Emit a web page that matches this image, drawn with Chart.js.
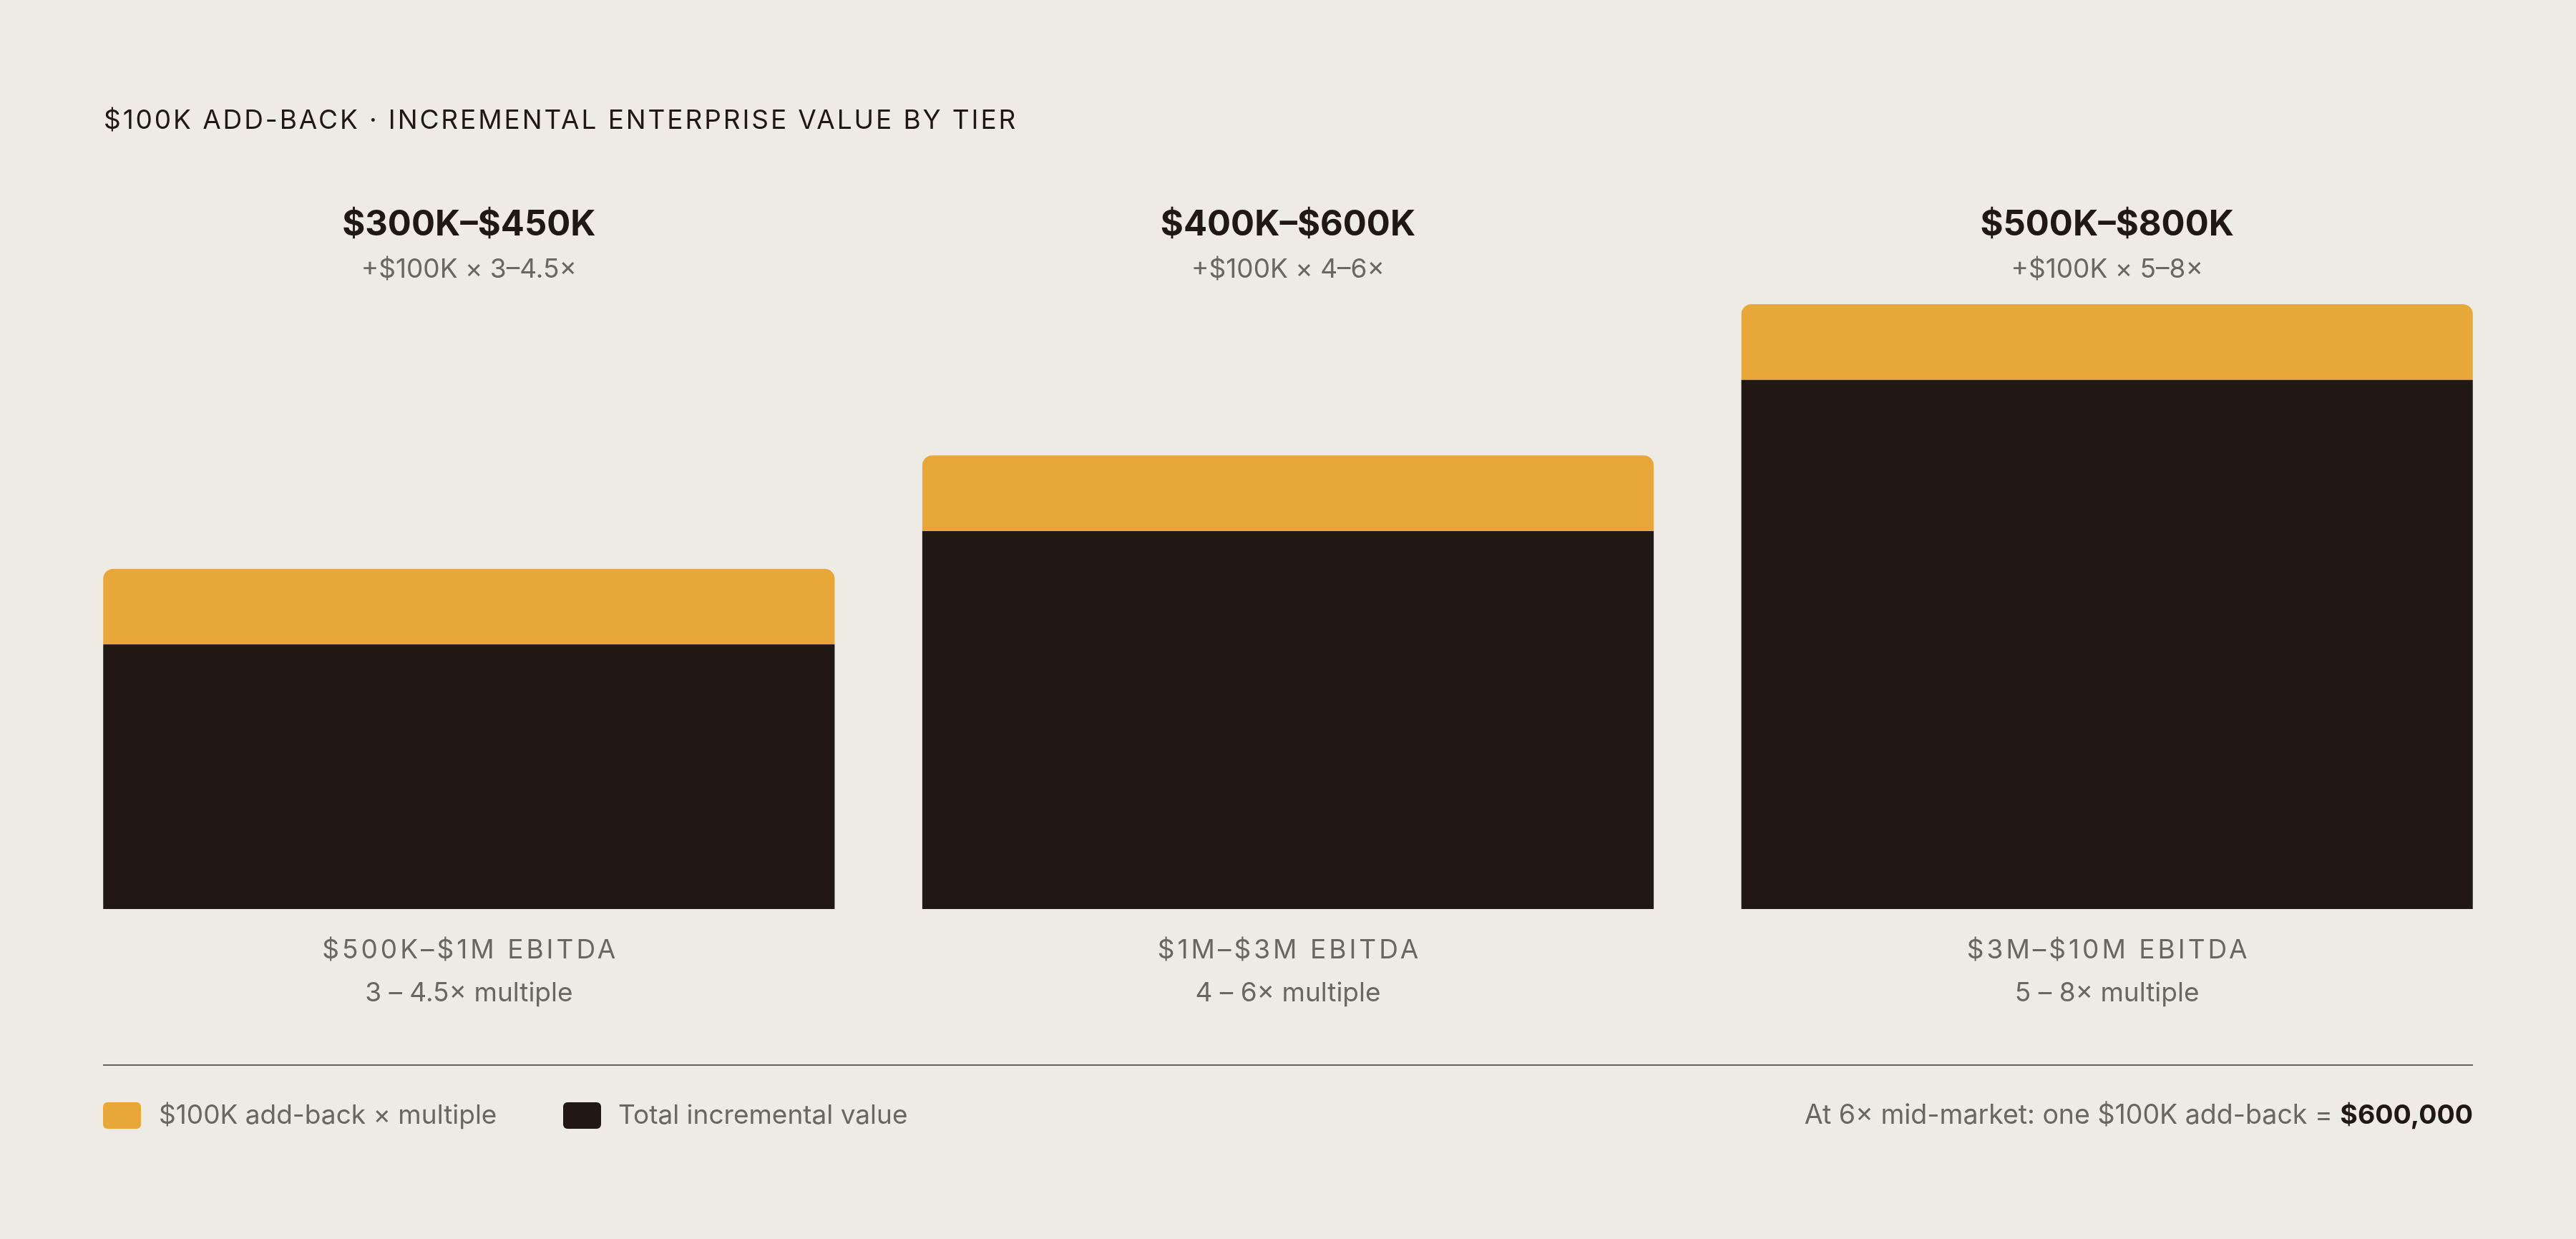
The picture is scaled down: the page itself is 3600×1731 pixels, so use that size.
<!DOCTYPE html>
<html>
<head>
<meta charset="utf-8">
<script src="https://cdn.jsdelivr.net/npm/chart.js@4.4.1/dist/chart.umd.min.js"></script>
<style>
  html, body { margin: 0; padding: 0; background: #EEEBE4; }
  body { width: 3600px; height: 1731px; position: relative; overflow: hidden; font-family: Inter, "Noto Sans", sans-serif; }
  #wrap { position: absolute; left: 0; top: 0; width: 3600px; height: 1731px; }
  .abs { position: absolute; white-space: nowrap; line-height: 1; }
  #title { left: 145px; top: 148px; font-size: 37px; letter-spacing: 2.9px; color: #1F1813; }
  #rule { position: absolute; left: 144px; width: 3312px; top: 1487px; height: 2px; background: #66625C; }
  .sw { position: absolute; top: 1540px; width: 53px; height: 37px; border-radius: 6px; }
  .leg { top: 1538px; font-size: 37px; color: #6B6660; }
  #note { right: 144px; top: 1538px; font-size: 37.5px; color: #6B6660; }
  #note b { color: #1F1813; font-weight: 700; }
</style>
</head>
<body>
<div id="wrap"><canvas id="c"></canvas></div>
<div id="title" class="abs">$100K ADD-BACK · INCREMENTAL ENTERPRISE VALUE BY TIER</div>
<div id="rule"></div>
<div class="sw" style="left:144px;background:#E7A839"></div>
<div class="abs leg" style="left:222px">$100K add-back × multiple</div>
<div class="sw" style="left:787px;background:#1F1813"></div>
<div class="abs leg" style="left:864px">Total incremental value</div>
<div id="note" class="abs">At 6× mid-market: one $100K add-back = <b>$600,000</b></div>
<script>
// ---- data ----
const tiers = ["$500K–$1M EBITDA", "$1M–$3M EBITDA", "$3M–$10M EBITDA"];
const multipleLabels = ["3 – 4.5× multiple", "4 – 6× multiple", "5 – 8× multiple"];
const rangeLabels = ["$300K–$450K", "$400K–$600K", "$500K–$800K"];
const formulaLabels = ["+$100K × 3–4.5×", "+$100K × 4–6×", "+$100K × 5–8×"];
const totalValue = [350, 500, 700];      // $K, dark segment
const addBackValue = [100, 100, 100];    // $K, gold segment on top
const seriesNames = ["Total incremental value", "$100K add-back × multiple"];

const GOLD = "#E7A839", DARK = "#1F1813", GRAY = "#6B6660";
const FONT = "Inter, 'Noto Sans', sans-serif";

const labelPlugin = {
  id: "tierLabels",
  afterDatasetsDraw(chart) {
    const ctx = chart.ctx;
    const xs = chart.scales.x;
    ctx.save();
    ctx.textAlign = "center";
    ctx.textBaseline = "alphabetic";
    tiers.forEach((t, i) => {
      const x = xs.getPixelForValue(i);
      ctx.letterSpacing = "0px";
      ctx.fillStyle = DARK;
      ctx.font = "700 49px " + FONT;
      ctx.fillText(rangeLabels[i], x, 329);
      ctx.fillStyle = GRAY;
      ctx.font = "400 37px " + FONT;
      ctx.fillText(formulaLabels[i], x, 388);
      ctx.letterSpacing = "4px";
      ctx.fillText(t, x + 2, 1339);
      ctx.letterSpacing = "0px";
      ctx.fillText(multipleLabels[i], x, 1399);
    });
    ctx.restore();
  }
};

new Chart(document.getElementById("c"), {
  type: "bar",
  data: {
    labels: tiers,
    datasets: [
      { label: seriesNames[0], data: totalValue, backgroundColor: DARK, borderWidth: 0, borderRadius: 0,
        barPercentage: 0.893, categoryPercentage: 1 },
      { label: seriesNames[1], data: addBackValue, backgroundColor: GOLD, borderWidth: 0,
        borderRadius: { topLeft: 14, topRight: 14, bottomLeft: 0, bottomRight: 0 }, borderSkipped: false,
        barPercentage: 0.893, categoryPercentage: 1 }
    ]
  },
  options: {
    responsive: true,
    maintainAspectRatio: false,
    devicePixelRatio: 1,
    animation: false,
    layout: { padding: { left: 83, right: 83, top: 425, bottom: 461 } },
    plugins: { legend: { display: false }, tooltip: { enabled: false }, title: { display: false } },
    scales: {
      x: { stacked: true, display: false },
      y: { stacked: true, display: false, min: 0, max: 800 }
    }
  },
  plugins: [labelPlugin]
});
</script>
</body>
</html>
